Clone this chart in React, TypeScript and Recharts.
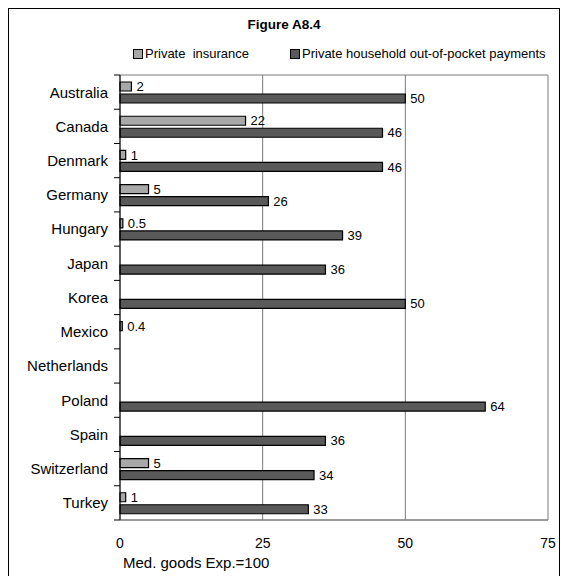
import { BarChart, Bar, XAxis, YAxis, CartesianGrid, LabelList } from 'recharts';

const countries = [
  'Australia', 'Canada', 'Denmark', 'Germany', 'Hungary', 'Japan', 'Korea',
  'Mexico', 'Netherlands', 'Poland', 'Spain', 'Switzerland', 'Turkey',
];
const privateInsurance = [2, 22, 1, 5, 0.5, null, null, 0.4, null, null, null, 5, 1];
const outOfPocket = [50, 46, 46, 26, 39, 36, 50, null, null, 64, 36, 34, 33];
const xTicks = [0, 25, 50, 75];

const data = countries.map((country, i) => ({
  country,
  insurance: privateInsurance[i],
  oop: outOfPocket[i],
}));

const W = 569;
const H = 576;
const PLOT_TOP = 75;
const X_AXIS_H = 56;
const BAND = (H - X_AXIS_H - PLOT_TOP) / countries.length;

const INS_FILL = '#a8a8a8';
const OOP_FILL = '#595959';
const GRID = '#7a7a7a';

const CountryTick = (props: any) => {
  const { x, y, payload, index } = props;
  const axisX = x + 12;
  return (
    <g>
      <line x1={axisX - 6} x2={axisX} y1={y - BAND / 2} y2={y - BAND / 2} stroke="#000" />
      {index === countries.length - 1 && (
        <line x1={axisX - 6} x2={axisX} y1={y + BAND / 2} y2={y + BAND / 2} stroke="#000" />
      )}
      <text x={x} y={y} dy="0.36em" textAnchor="end" fontSize={15} fill="#000">
        {payload.value}
      </text>
    </g>
  );
};

const fmt = (v: any) => (v == null ? '' : v);

const LegendSwatch = ({ color }: { color: string }) => (
  <span
    style={{
      display: 'inline-block',
      width: 8,
      height: 8,
      background: color,
      border: '1px solid #000',
      marginRight: 2,
      verticalAlign: 'middle',
      position: 'relative',
      top: -1,
    }}
  />
);

export default function App() {
  return (
    <div
      style={{
        position: 'absolute',
        left: 0,
        top: 0,
        width: W,
        height: H,
        overflow: 'hidden',
        background: '#fff',
        fontFamily: '"Liberation Sans", Arial, sans-serif',
      }}
    >
      <div
        style={{
          position: 'absolute',
          left: 8,
          top: 8,
          width: 552,
          height: 620,
          border: '1px solid #000',
          boxSizing: 'border-box',
        }}
      />
      <div
        style={{
          position: 'absolute',
          left: 8,
          top: 17,
          width: 552,
          textAlign: 'center',
          fontWeight: 'bold',
          fontSize: 13.5,
        }}
      >
        Figure A8.4
      </div>
      <div style={{ position: 'absolute', left: 133, top: 46, fontSize: 13, whiteSpace: 'pre' }}>
        <LegendSwatch color={INS_FILL} />
        {'Private  insurance'}
      </div>
      <div style={{ position: 'absolute', left: 290, top: 46, fontSize: 13, whiteSpace: 'pre' }}>
        <LegendSwatch color={OOP_FILL} />
        Private household out-of-pocket payments
      </div>
      <BarChart
        width={W}
        height={H}
        data={data}
        layout="vertical"
        margin={{ top: PLOT_TOP, right: 21, bottom: 0, left: 8 }}
        barSize={9}
        barGap={3}
        style={{ position: 'absolute', left: 0, top: 0 }}
      >
        <CartesianGrid
          stroke={GRID}
          horizontalCoordinatesGenerator={({ offset }: any) => [offset.top, offset.top + offset.height]}
        />
        <XAxis
          type="number"
          domain={[0, 75]}
          ticks={xTicks}
          height={X_AXIS_H}
          tickLine={false}
          tickMargin={12}
          axisLine={{ stroke: GRID }}
          tick={{ fill: '#000', fontSize: 14 }}
          label={{
            value: 'Med. goods Exp.=100',
            position: 'insideBottomLeft',
            offset: 8,
            dx: -5,
            fill: '#000',
            fontSize: 15,
          }}
        />
        <YAxis
          type="category"
          dataKey="country"
          width={112}
          tickLine={false}
          tickSize={6}
          tickMargin={6}
          axisLine={{ stroke: '#000' }}
          tick={<CountryTick />}
          interval={0}
        />
        <Bar dataKey="insurance" fill={INS_FILL} stroke="#000" strokeWidth={1.2} isAnimationActive={false}>
          <LabelList dataKey="insurance" position="right" offset={5} fontSize={13} fill="#000" formatter={fmt} />
        </Bar>
        <Bar dataKey="oop" fill={OOP_FILL} stroke="#000" strokeWidth={1.2} isAnimationActive={false}>
          <LabelList dataKey="oop" position="right" offset={5} fontSize={13} fill="#000" formatter={fmt} />
        </Bar>
      </BarChart>
    </div>
  );
}
